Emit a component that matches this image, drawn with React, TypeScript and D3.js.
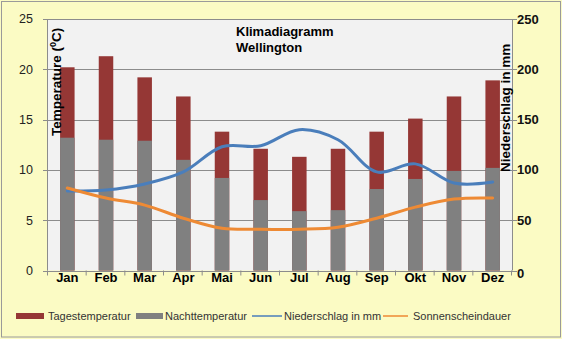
import React from "react";
import * as d3 from "d3";

const months = ["Jan", "Feb", "Mar", "Apr", "Mai", "Jun", "Jul", "Aug", "Sep", "Okt", "Nov", "Dez"];
const tagestemperatur = [20.2, 21.3, 19.2, 17.3, 13.8, 12.1, 11.3, 12.1, 13.8, 15.1, 17.3, 18.9];
const nachttemperatur = [13.2, 13.0, 12.9, 11.0, 9.2, 7.0, 5.9, 6.0, 8.1, 9.1, 9.9, 10.2];
const niederschlag = [79, 80, 86, 98, 123, 124, 140, 130, 98, 106, 87, 88];
const sonnenschein = [82, 72, 65, 52, 42, 41, 41, 43, 52, 63, 71, 72];
const leftTicks = [0, 5, 10, 15, 20, 25];
const rightTicks = [0, 50, 100, 150, 200, 250];

const W = 562;
const H = 339;
const FONT = "'Liberation Sans', Arial, sans-serif";

export default function App() {
  const left = 48, right = 512, top = 19, bottom = 270.5;
  const x = d3.scaleBand<string>().domain(months).range([left, right]).paddingInner(0.625).paddingOuter(0.3125);
  const xc = (m: string) => (x(m) as number) + x.bandwidth() / 2;
  const yL = d3.scaleLinear().domain([0, 25]).range([bottom, top]);
  const yR = d3.scaleLinear().domain([0, 250]).range([bottom, top]);
  const step = x.step();

  const line = d3
    .line<number>()
    .x((_, i) => xc(months[i]))
    .y((d) => yR(d))
    .curve(d3.curveCatmullRom.alpha(0.5));

  return (
    <div style={{ position: "absolute", left: 0, top: 0 }}>
      <svg width={W} height={H} style={{ display: "block" }} fontFamily={FONT}>
        <rect x={0} y={0} width={W} height={H} fill="#fbfbc4" />
        <rect x={1.5} y={1.5} width={559} height={335.5} fill="none" stroke="#9a9a9a" strokeWidth={1} />
        <rect x={left} y={top} width={right - left} height={bottom - top} fill="#f2f2f2" />
        {leftTicks.map((t) => (
          <line key={"g" + t} x1={left} x2={right} y1={Math.round(yL(t)) + 0.5} y2={Math.round(yL(t)) + 0.5} stroke="#8c8c8c" strokeWidth={1} />
        ))}
        {/* bars */}
        {months.map((m, i) => (
          <g key={m}>
            <rect x={x(m)} y={yL(tagestemperatur[i])} width={x.bandwidth()} height={yL(0) - yL(tagestemperatur[i])} fill="#953735" />
            <rect x={x(m)} y={yL(nachttemperatur[i])} width={x.bandwidth()} height={yL(0) - yL(nachttemperatur[i])} fill="#808080" />
          </g>
        ))}
        {/* lines */}
        <path d={line(niederschlag) || ""} fill="none" stroke="#4a7ebb" strokeWidth={3} strokeLinecap="round" />
        <path d={line(sonnenschein) || ""} fill="none" stroke="#ee8a34" strokeWidth={3} strokeLinecap="round" />
        {/* axes */}
        <line x1={left - 0.5} x2={left - 0.5} y1={top} y2={bottom} stroke="#8c8c8c" />
        <line x1={right + 0.5} x2={right + 0.5} y1={top} y2={bottom} stroke="#8c8c8c" />
        <line x1={left} x2={right} y1={Math.round(bottom) + 0.5} y2={Math.round(bottom) + 0.5} stroke="#8c8c8c" />
        {leftTicks.map((t) => (
          <g key={"l" + t}>
            <line x1={left - 5} x2={left} y1={Math.round(yL(t)) + 0.5} y2={Math.round(yL(t)) + 0.5} stroke="#8c8c8c" />
            <text x={33} y={yL(t)} dy="0.35em" textAnchor="end" fontSize={12.5} fill="#222">{t}</text>
          </g>
        ))}
        {rightTicks.map((t) => (
          <g key={"r" + t}>
            <line x1={right} x2={right + 5} y1={Math.round(yR(t)) + 0.5} y2={Math.round(yR(t)) + 0.5} stroke="#8c8c8c" />
            <text x={517} y={yR(t) + (t === 0 ? 3 : 0)} dy="0.35em" textAnchor="start" fontSize={13} fontWeight="bold" fill="#111">{t}</text>
          </g>
        ))}
        {d3.range(months.length + 1).map((i) => (
          <line key={"xt" + i} x1={left + i * step - 0.5} x2={left + i * step - 0.5} y1={bottom} y2={bottom + 5} stroke="#8c8c8c" />
        ))}
        {months.map((m) => (
          <text key={"xl" + m} x={xc(m)} y={282} textAnchor="middle" fontSize={13} fontWeight="bold" fill="#000">{m}</text>
        ))}
        {/* titles */}
        <text x={236} y={36} fontSize={13} fontWeight="bold" fill="#000">Klimadiagramm</text>
        <text x={236} y={52} fontSize={13} fontWeight="bold" fill="#000">Wellington</text>
        <text transform="translate(61,136) rotate(-90)" fontSize={13.5} fontWeight="bold" fill="#000">
          Temperature (<tspan fontSize={9} dy={-5}>0</tspan><tspan dy={5}>C)</tspan>
        </text>
        <text transform="translate(510,172) rotate(-90)" fontSize={13.5} fontWeight="bold" fill="#000">Niederschlag in mm</text>
        {/* legend */}
        <g fontSize={11} fill="#333">
          <rect x={16} y={313} width={28} height={6} fill="#953735" />
          <text x={48} y={316} dy="0.35em">Tagestemperatur</text>
          <rect x={136} y={313} width={27} height={6} fill="#808080" />
          <text x={165} y={316} dy="0.35em">Nachttemperatur</text>
          <line x1={252} x2={282} y1={316} y2={316} stroke="#4a7ebb" strokeWidth={1.5} />
          <text x={284} y={316} dy="0.35em">Niederschlag in mm</text>
          <line x1={383} x2={408} y1={316} y2={316} stroke="#ee8a34" strokeWidth={1.5} />
          <text x={413} y={316} dy="0.35em">Sonnenscheindauer</text>
        </g>
      </svg>
    </div>
  );
}
